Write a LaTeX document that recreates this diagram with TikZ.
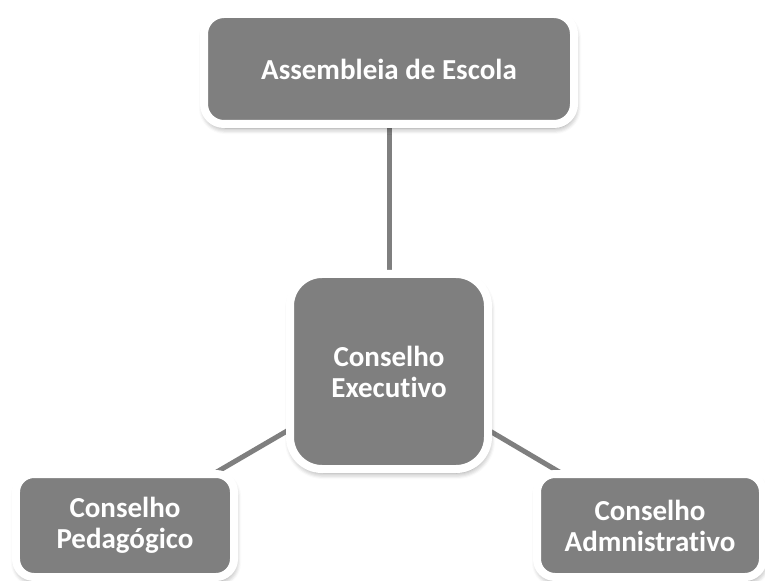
\documentclass[tikz,border=0pt]{standalone}
\usepackage{fontspec}
\setmainfont{Carlito}[Ligatures=NoCommon]
\usetikzlibrary{shadows.blur,backgrounds}

\tikzset{
  orgbox/.style={draw=white, line width=8bp, fill=boxgray, text=white,
    font=\bfseries\fontsize{29bp}{31bp}\selectfont, align=center,
    blur shadow={shadow xshift=1bp, shadow yshift=-4bp, shadow blur steps=6,
      shadow blur radius=6bp, shadow opacity=45}},
  link/.style={draw=boxgray, line width=5bp}
}
\definecolor{boxgray}{HTML}{7F7F7F}

\begin{document}
\begin{tikzpicture}[x=1bp, y=-1bp]
  \useasboundingbox (0,0) rectangle (765,581);

  \node[orgbox, minimum width=370bp, minimum height=110bp, rounded corners=20bp]
    (Assembleia) at (389,69) {Assembleia de Escola};
  \node[orgbox, minimum width=198bp, minimum height=195bp, rounded corners=32bp]
    (Executivo) at (389,371.5) {Conselho\\Executivo};
  \node[orgbox, minimum width=218bp, minimum height=103bp, rounded corners=18bp]
    (Pedagogico) at (125,525.5) {Conselho\\Pedagógico};
  \node[orgbox, minimum width=226bp, minimum height=103bp, rounded corners=18bp]
    (Administrativo) at (650,525.5) {Conselho\\Admnistrativo};

  \begin{scope}[on background layer]
    \draw[link] (Assembleia.center) -- (Executivo.center);
    \draw[link] (Executivo.center) -- (Pedagogico.center);
    \draw[link] (Executivo.center) -- (Administrativo.center);
  \end{scope}
\end{tikzpicture}
\end{document}
